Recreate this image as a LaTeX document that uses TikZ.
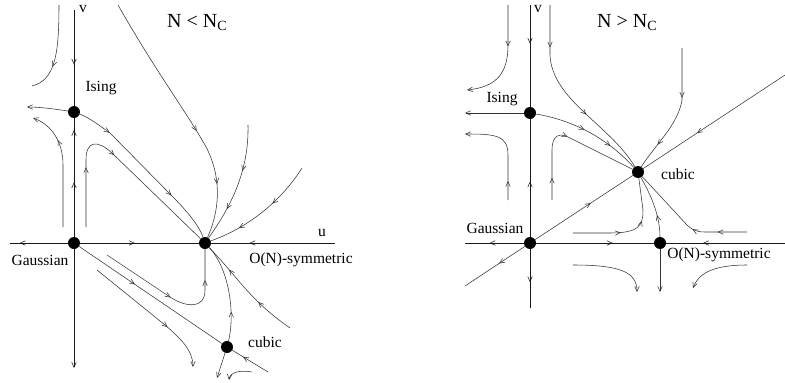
\documentclass[tikz,border=0pt]{standalone}
\usepackage{fontspec}
\setmainfont{Liberation Serif}
\usetikzlibrary{arrows.meta,decorations.markings}
\tikzset{
  fp/.style={circle,fill=black,draw=none,inner sep=0pt,minimum size=12pt},
  lab/.style={inner sep=0pt,font=\fontsize{15.5}{18}\selectfont},
  ttl/.style={inner sep=0pt,anchor=base west,font=\fontsize{20}{24}\selectfont},
  flow/.style={line width=0.55pt,draw=black!80},
  axis/.style={line width=0.85pt,draw=black!90},
  endarr/.style={-{Straight Barb[length=5pt,width=4.5pt,line width=0.55pt]}},
  midarr/.style={postaction={decorate,decoration={markings,
     mark=at position #1 with {\arrow[line width=0.55pt]{Straight Barb[length=5pt,width=4.5pt]}}}}},
}
\begin{document}
\begin{tikzpicture}[x=1pt,y=-1pt]
\useasboundingbox (0,0) rectangle (785,383);
% ================= LEFT PANEL =================
\node[fp] (LI) at (74,112) {};
\node[fp] (LG) at (74,243) {};
\node[fp] (LO) at (205,243) {};
\node[fp] (LC) at (227,347) {};
\coordinate (LvT) at (74,10);
\coordinate (LvB) at (74,368);
\coordinate (LuL) at (10,243);
\coordinate (LuR) at (335,243);
\coordinate (L1a) at (59,5);   \coordinate (L1b) at (32,86);
\coordinate (L2b) at (27,107);
\coordinate (L3a) at (63,227); \coordinate (L3b) at (33,118);
\coordinate (L5a) at (86,227);
\coordinate (L6a) at (118,5);
\coordinate (L7a) at (248,125);
\coordinate (L8a) at (302,168);
\coordinate (L9a) at (107,255);
\coordinate (L10b) at (268,372);
\coordinate (L11a) at (97,270); \coordinate (L11b) at (193,367);
\coordinate (L13a) at (290,328);
\coordinate (L14b) at (217,378);
\coordinate (L15a) at (252,372); \coordinate (L15b) at (229,380);

% axes
\draw[axis,midarr=0.57] (LvT) -- (LI);
\draw[axis,midarr=0.46,midarr=0.9] (LG) -- (LI);
\draw[axis,endarr] (LG) -- (LvB);
\draw[axis,midarr=0.83] (LG) -- (LuL);
\draw[axis,midarr=0.46] (LG) -- (LO);
\draw[axis,midarr=0.69] (LuR) -- (LO);

% flow lines
\draw[flow,midarr=0.68] (L1a) .. controls (59,55) and (55,80) .. (L1b);
\draw[flow,endarr] (LI) .. controls (55,109) and (40,107) .. (L2b);
\draw[flow,midarr=0.72,endarr] (L3a) -- (63,165) .. controls (63,140) and (50,124) .. (L3b);
\draw[flow,midarr=0.2,midarr=0.7] (LI) .. controls (90,118) and (100,126) .. (110,133) -- (173,197) .. controls (190,214) and (200,228) .. (LO);
\draw[flow,midarr=0.26,midarr=0.48] (L5a) -- (86,160) .. controls (86,140) and (98,140) .. (112,153) -- (LO);
\draw[flow,midarr=0.57,midarr=0.79] (L6a) .. controls (155,70) and (185,110) .. (205,145) .. controls (220,172) and (222,205) .. (LO);
\draw[flow,midarr=0.38,midarr=0.72] (L7a) .. controls (249,170) and (232,205) .. (LO);
\draw[flow,midarr=0.39,midarr=0.74] (L8a) .. controls (285,195) and (255,225) .. (LO);
\draw[flow,midarr=0.47,midarr=0.81] (L9a) -- (170,297) .. controls (185,307) and (205,310) .. (205,290) -- (LO);
\draw[flow,midarr=0.39] (LG) -- (LC);
\draw[flow,midarr=0.7] (L10b) -- (LC);
\draw[flow,midarr=0.65,endarr] (L11a) -- (165,325) .. controls (180,338) and (193,350) .. (L11b);
\draw[flow,midarr=0.3] (LC) .. controls (235,315) and (230,270) .. (LO);
\draw[flow,midarr=0.36,midarr=0.74] (L13a) .. controls (250,300) and (240,280) .. (LO);
\draw[flow,endarr] (LC) -- (L14b);
\draw[flow,endarr] (L15a) .. controls (240,370) and (230,372) .. (L15b);

% labels
\node[lab] (tLv) at (83,9) {v};
\node[lab] (tLu) at (322,233) {u};
\node[lab] (tLI) at (101,88) {Ising};
\node[lab] (tLG) at (40,260) {Gaussian};
\node[lab] (tLO) at (301,260) {O(N)-symmetric};
\node[lab] (tLC) at (265,342) {cubic};
\node[ttl] (tLT) at (167,27) {N < N\textsubscript{C}};

% ================= RIGHT PANEL =================
\node[fp] (RI) at (530,113) {};
\node[fp] (RG) at (530,243) {};
\node[fp] (RO) at (660,243) {};
\node[fp] (RC) at (638,172) {};
\coordinate (RvT) at (530,5);
\coordinate (RvB) at (530,308);
\coordinate (RuL) at (465,243);
\coordinate (RuR) at (785,243);
\coordinate (RdL) at (465,286);
\coordinate (RdR) at (785,75);
\coordinate (R1a) at (508,5);   \coordinate (R1b) at (467,90);
\coordinate (R2b) at (465,113);
\coordinate (R3a) at (508,200); \coordinate (R3b) at (465,134);
\coordinate (R4a) at (550,5);
\coordinate (R6a) at (552,200);
\coordinate (R7a) at (682,48);
\coordinate (R8a) at (573,233);
\coordinate (R10a) at (747,232);
\coordinate (R11b) at (660,292);
\coordinate (R12a) at (573,265); \coordinate (R12b) at (637,292);
\coordinate (R13a) at (747,265); \coordinate (R13b) at (693,288);

% axes
\draw[axis,midarr=0.38] (RvT) -- (RI);
\draw[axis,midarr=0.47] (RG) -- (RI);
\draw[axis,midarr=0.56] (RG) -- (RvB);
\draw[axis,midarr=0.58] (RG) -- (RuL);
\draw[axis,midarr=0.65] (RG) -- (RO);
\draw[axis,midarr=0.69] (RuR) -- (RO);
\draw[flow,midarr=0.43] (RG) -- (RdL);
\draw[flow,midarr=0.57] (RG) -- (RC);
\draw[flow,midarr=0.62] (RdR) -- (RC);

% flow lines
\draw[flow,midarr=0.38,endarr] (R1a) -- (508,45) .. controls (508,75) and (495,87) .. (R1b);
\draw[flow,endarr] (RI) -- (R2b);
\draw[flow,midarr=0.19,endarr] (R3a) -- (508,155) .. controls (508,135) and (495,134) .. (R3b);
\draw[flow,midarr=0.22,midarr=0.63] (R4a) -- (550,55) .. controls (552,100) and (610,125) .. (RC);
\draw[flow,midarr=0.45,midarr=0.72] (RI) .. controls (560,118) and (600,130) .. (RC);
\draw[flow,midarr=0.15,midarr=0.51] (R6a) -- (552,150) .. controls (552,135) and (560,132) .. (570,138) -- (RC);
\draw[flow,midarr=0.38,midarr=0.79] (R7a) -- (682,100) .. controls (678,125) and (655,145) .. (RC);
\draw[flow,midarr=0.41,midarr=0.63] (R8a) -- (610,233) .. controls (640,233) and (643,225) .. (643,210) -- (RC);
\draw[flow,midarr=0.35] (RO) .. controls (660,210) and (645,185) .. (RC);
\draw[flow,midarr=0.23,midarr=0.43] (R10a) -- (705,232) .. controls (697,232) and (692,230) .. (687,225) -- (RC);
\draw[flow,endarr] (RO) -- (R11b);
\draw[flow,endarr] (R12a) .. controls (620,265) and (637,272) .. (R12b);
\draw[flow,endarr] (R13a) .. controls (710,265) and (698,275) .. (R13b);

% labels
\node[lab] (tRv) at (538,9) {v};
\node[lab] (tRI) at (502,99) {Ising};
\node[lab] (tRG) at (495,228) {Gaussian};
\node[lab] (tRC) at (678,174) {cubic};
\node[lab] (tRO) at (719,255) {O(N)-symmetric};
\node[ttl] (tRT) at (597,27) {N > N\textsubscript{C}};
\end{tikzpicture}
\end{document}
